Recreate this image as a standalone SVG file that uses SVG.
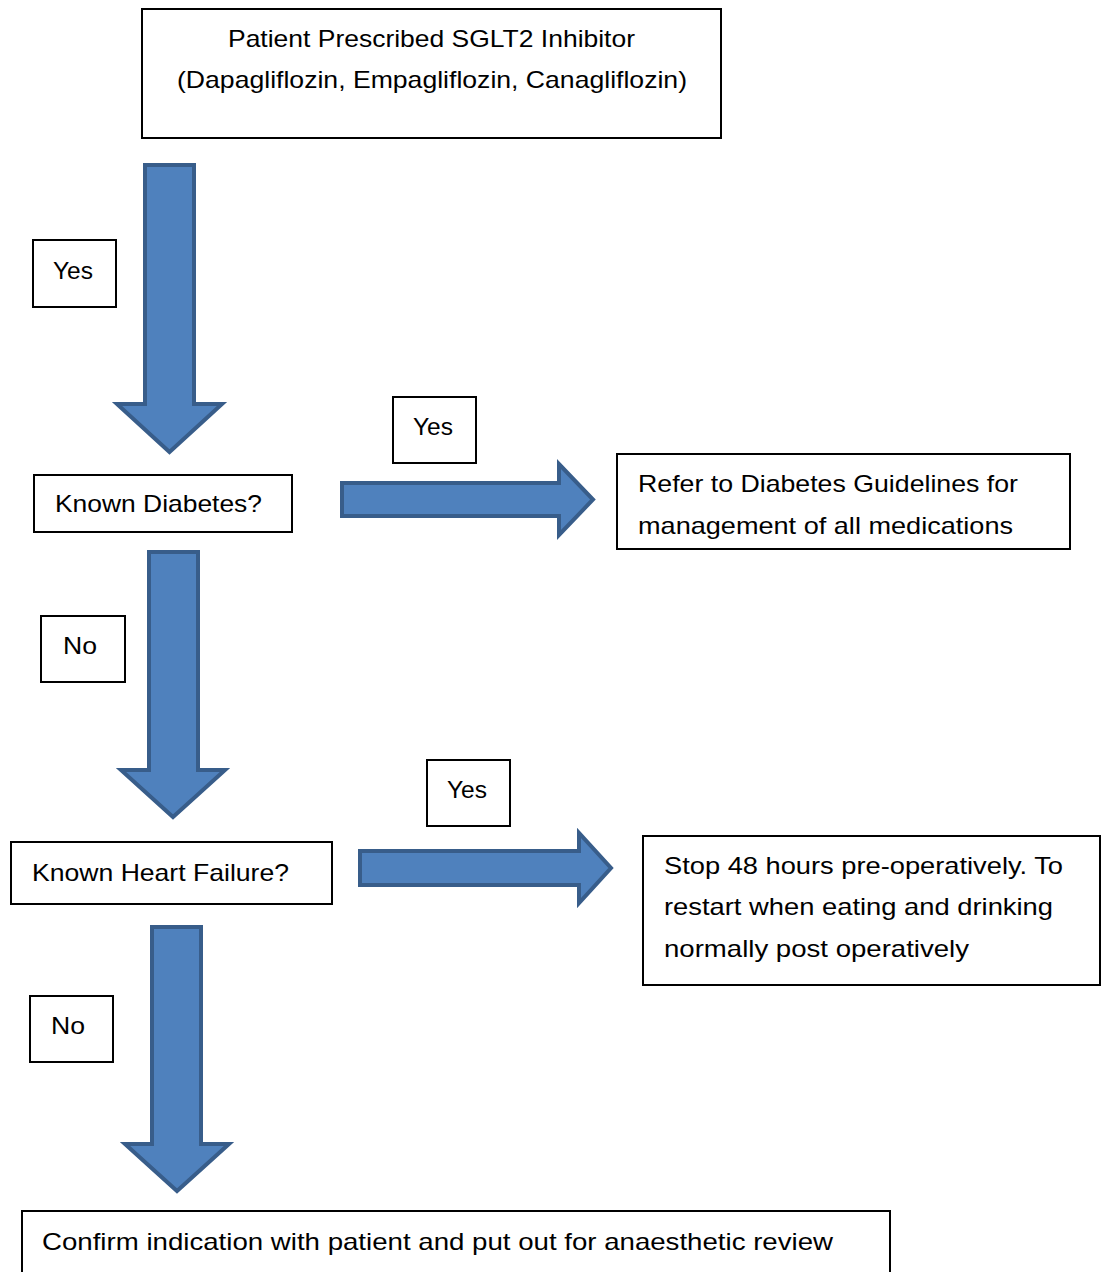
<svg xmlns="http://www.w3.org/2000/svg" width="1106" height="1272" viewBox="0 0 1106 1272">
<style>
.box{fill:#fff;stroke:#000;stroke-width:2}
.t{font-family:"Liberation Sans",Arial,sans-serif;font-size:24px;fill:#000}
.arr{fill:#4f81bd;stroke:#385d8a;stroke-width:4;stroke-linejoin:miter}
</style>
<rect width="1106" height="1272" fill="#fff"/>
<g id="connectors">
<path id="a1" class="arr" d="M145,165 H194 V404 H222 L169.5,452 L117,404 H145 Z"/>
<path id="a2" class="arr" d="M342,483 H559 V464 L593,499.5 L559,535 V516 H342 Z"/>
<path id="a3" class="arr" d="M149,552 H198 V770 H225 L173,817 L121,770 H149 Z"/>
<path id="a4" class="arr" d="M360,851 H579 V833 L611,868 L579,903 V885 H360 Z"/>
<path id="a5" class="arr" d="M152,927 H201 V1144 H229 L177,1191 L125,1144 H152 Z"/>
</g>
<g id="start"><rect class="box" x="142" y="9" width="579" height="129"/>
<text class="t" x="431.5" y="47" text-anchor="middle" textLength="407" lengthAdjust="spacingAndGlyphs">Patient Prescribed SGLT2 Inhibitor</text>
<text class="t" x="432" y="88" text-anchor="middle" textLength="510" lengthAdjust="spacingAndGlyphs">(Dapagliflozin, Empagliflozin, Canagliflozin)</text></g>
<g id="yes1"><rect class="box" x="33" y="240" width="83" height="67"/>
<text class="t" x="53" y="279" textLength="40" lengthAdjust="spacingAndGlyphs">Yes</text></g>
<g id="diabetes"><rect class="box" x="34" y="475" width="258" height="57"/>
<text class="t" x="55" y="512" textLength="207" lengthAdjust="spacingAndGlyphs">Known Diabetes?</text></g>
<g id="yes2"><rect class="box" x="393" y="397" width="83" height="66"/>
<text class="t" x="413" y="435" textLength="40" lengthAdjust="spacingAndGlyphs">Yes</text></g>
<g id="refer"><rect class="box" x="617" y="454" width="453" height="95"/>
<text class="t" x="638" y="492" textLength="380" lengthAdjust="spacingAndGlyphs">Refer to Diabetes Guidelines for</text>
<text class="t" x="638" y="534" textLength="375" lengthAdjust="spacingAndGlyphs">management of all medications</text></g>
<g id="no1"><rect class="box" x="41" y="616" width="84" height="66"/>
<text class="t" x="63" y="654" textLength="34" lengthAdjust="spacingAndGlyphs">No</text></g>
<g id="yes3"><rect class="box" x="427" y="760" width="83" height="66"/>
<text class="t" x="447" y="798" textLength="40" lengthAdjust="spacingAndGlyphs">Yes</text></g>
<g id="heart"><rect class="box" x="11" y="842" width="321" height="62"/>
<text class="t" x="32" y="881" textLength="257" lengthAdjust="spacingAndGlyphs">Known Heart Failure?</text></g>
<g id="stop"><rect class="box" x="643" y="836" width="457" height="149"/>
<text class="t" x="664" y="874" textLength="399" lengthAdjust="spacingAndGlyphs">Stop 48 hours pre-operatively. To</text>
<text class="t" x="664" y="915" textLength="389" lengthAdjust="spacingAndGlyphs">restart when eating and drinking</text>
<text class="t" x="664" y="957" textLength="305" lengthAdjust="spacingAndGlyphs">normally post operatively</text></g>
<g id="no2"><rect class="box" x="30" y="996" width="83" height="66"/>
<text class="t" x="51" y="1034" textLength="34" lengthAdjust="spacingAndGlyphs">No</text></g>
<g id="confirm"><rect class="box" x="22" y="1211" width="868" height="80"/>
<text class="t" x="42" y="1250" textLength="791" lengthAdjust="spacingAndGlyphs">Confirm indication with patient and put out for anaesthetic review</text></g>
</svg>
